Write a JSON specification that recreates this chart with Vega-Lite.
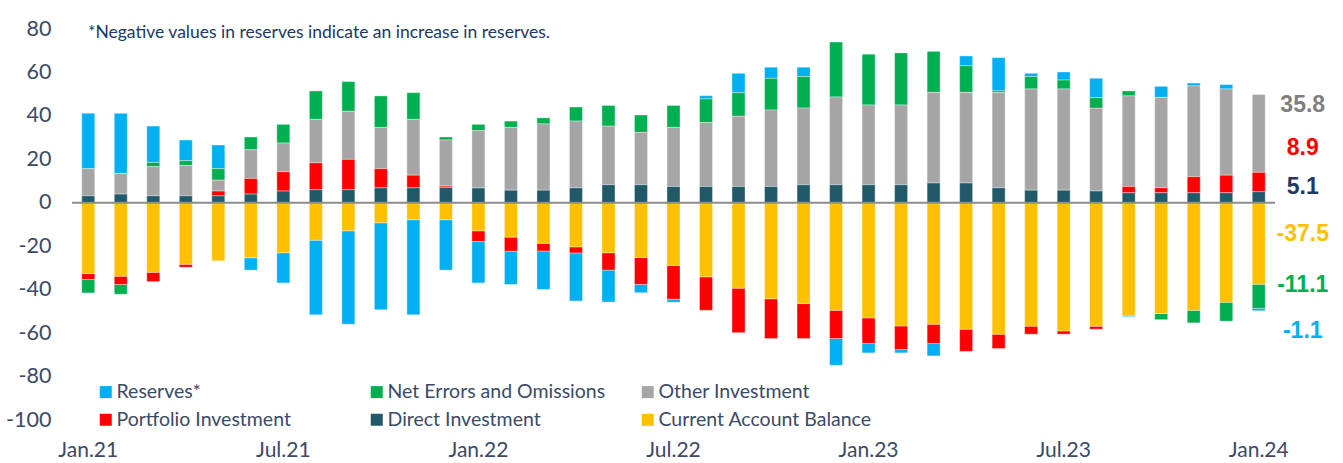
{
  "$schema": "https://vega.github.io/schema/vega-lite/v6.json",
  "width": 1203,
  "height": 391,
  "autosize": {"type": "none"},
  "padding": {"left": 72, "top": 29, "right": 68, "bottom": 43},
  "background": "white",
  "config": {"view": {"stroke": null}, "font": "Lato"},
  "title": {
    "text": "*Negative values in reserves indicate an increase in reserves.",
    "anchor": "start",
    "frame": "group",
    "offset": -23,
    "dx": 16,
    "fontSize": 17.5,
    "fontWeight": "normal",
    "color": "#203864",
    "font": "Lato"
  },
  "datasets": {
    "bop": [
      {"month": "Jan.21", "Current Account Balance": -32.6, "Direct Investment": 3.2, "Portfolio Investment": -2.7, "Other Investment": 12.5, "Net Errors and Omissions": -6.2, "Reserves*": 25.5},
      {"month": "Feb.21", "Current Account Balance": -33.8, "Direct Investment": 4.0, "Portfolio Investment": -3.8, "Other Investment": 9.5, "Net Errors and Omissions": -4.5, "Reserves*": 27.7},
      {"month": "Mar.21", "Current Account Balance": -32.0, "Direct Investment": 3.2, "Portfolio Investment": -4.3, "Other Investment": 13.4, "Net Errors and Omissions": 2.0, "Reserves*": 16.7},
      {"month": "Apr.21", "Current Account Balance": -28.3, "Direct Investment": 3.2, "Portfolio Investment": -1.4, "Other Investment": 14.0, "Net Errors and Omissions": 2.2, "Reserves*": 9.5},
      {"month": "May.21", "Current Account Balance": -26.7, "Direct Investment": 3.2, "Portfolio Investment": 2.2, "Other Investment": 5.0, "Net Errors and Omissions": 5.3, "Reserves*": 10.9},
      {"month": "Jun.21", "Current Account Balance": -25.3, "Direct Investment": 4.0, "Portfolio Investment": 7.2, "Other Investment": 13.2, "Net Errors and Omissions": 5.9, "Reserves*": -5.7},
      {"month": "Jul.21", "Current Account Balance": -23.0, "Direct Investment": 5.4, "Portfolio Investment": 8.9, "Other Investment": 13.2, "Net Errors and Omissions": 8.6, "Reserves*": -13.9},
      {"month": "Aug.21", "Current Account Balance": -17.2, "Direct Investment": 6.0, "Portfolio Investment": 12.4, "Other Investment": 20.0, "Net Errors and Omissions": 13.1, "Reserves*": -34.4},
      {"month": "Sep.21", "Current Account Balance": -12.9, "Direct Investment": 6.0, "Portfolio Investment": 14.0, "Other Investment": 22.1, "Net Errors and Omissions": 13.7, "Reserves*": -43.0},
      {"month": "Oct.21", "Current Account Balance": -9.2, "Direct Investment": 6.9, "Portfolio Investment": 8.8, "Other Investment": 19.0, "Net Errors and Omissions": 14.5, "Reserves*": -40.1},
      {"month": "Nov.21", "Current Account Balance": -7.8, "Direct Investment": 6.9, "Portfolio Investment": 5.8, "Other Investment": 25.7, "Net Errors and Omissions": 12.3, "Reserves*": -43.8},
      {"month": "Dec.21", "Current Account Balance": -7.8, "Direct Investment": 7.1, "Portfolio Investment": 0.6, "Other Investment": 21.2, "Net Errors and Omissions": 1.4, "Reserves*": -23.2},
      {"month": "Jan.22", "Current Account Balance": -12.9, "Direct Investment": 6.8, "Portfolio Investment": -4.9, "Other Investment": 26.4, "Net Errors and Omissions": 2.9, "Reserves*": -19.1},
      {"month": "Feb.22", "Current Account Balance": -15.8, "Direct Investment": 5.8, "Portfolio Investment": -6.5, "Other Investment": 28.9, "Net Errors and Omissions": 2.9, "Reserves*": -15.3},
      {"month": "Mar.22", "Current Account Balance": -18.7, "Direct Investment": 5.8, "Portfolio Investment": -3.5, "Other Investment": 30.5, "Net Errors and Omissions": 2.8, "Reserves*": -17.7},
      {"month": "Apr.22", "Current Account Balance": -20.3, "Direct Investment": 6.9, "Portfolio Investment": -2.8, "Other Investment": 30.7, "Net Errors and Omissions": 6.5, "Reserves*": -22.1},
      {"month": "May.22", "Current Account Balance": -23.0, "Direct Investment": 8.3, "Portfolio Investment": -8.0, "Other Investment": 27.0, "Net Errors and Omissions": 9.5, "Reserves*": -14.7},
      {"month": "Jun.22", "Current Account Balance": -25.2, "Direct Investment": 8.3, "Portfolio Investment": -12.4, "Other Investment": 24.1, "Net Errors and Omissions": 8.0, "Reserves*": -3.8},
      {"month": "Jul.22", "Current Account Balance": -28.9, "Direct Investment": 7.5, "Portfolio Investment": -15.5, "Other Investment": 27.2, "Net Errors and Omissions": 10.1, "Reserves*": -1.4},
      {"month": "Aug.22", "Current Account Balance": -34.1, "Direct Investment": 7.5, "Portfolio Investment": -15.4, "Other Investment": 29.4, "Net Errors and Omissions": 10.9, "Reserves*": 1.5},
      {"month": "Sep.22", "Current Account Balance": -39.3, "Direct Investment": 7.5, "Portfolio Investment": -20.5, "Other Investment": 32.3, "Net Errors and Omissions": 10.9, "Reserves*": 8.9},
      {"month": "Oct.22", "Current Account Balance": -44.2, "Direct Investment": 7.5, "Portfolio Investment": -18.3, "Other Investment": 35.2, "Net Errors and Omissions": 14.6, "Reserves*": 5.1},
      {"month": "Nov.22", "Current Account Balance": -46.4, "Direct Investment": 8.3, "Portfolio Investment": -16.1, "Other Investment": 35.3, "Net Errors and Omissions": 14.5, "Reserves*": 4.3},
      {"month": "Dec.22", "Current Account Balance": -49.5, "Direct Investment": 8.3, "Portfolio Investment": -13.0, "Other Investment": 40.4, "Net Errors and Omissions": 25.3, "Reserves*": -12.3},
      {"month": "Jan.23", "Current Account Balance": -53.0, "Direct Investment": 8.3, "Portfolio Investment": -11.8, "Other Investment": 36.7, "Net Errors and Omissions": 23.4, "Reserves*": -4.3},
      {"month": "Feb.23", "Current Account Balance": -56.7, "Direct Investment": 8.3, "Portfolio Investment": -10.9, "Other Investment": 36.7, "Net Errors and Omissions": 24.0, "Reserves*": -1.5},
      {"month": "Mar.23", "Current Account Balance": -55.9, "Direct Investment": 9.1, "Portfolio Investment": -8.9, "Other Investment": 41.7, "Net Errors and Omissions": 18.9, "Reserves*": -5.7},
      {"month": "Apr.23", "Current Account Balance": -58.2, "Direct Investment": 9.1, "Portfolio Investment": -10.2, "Other Investment": 41.7, "Net Errors and Omissions": 12.3, "Reserves*": 4.5},
      {"month": "May.23", "Current Account Balance": -60.5, "Direct Investment": 6.9, "Portfolio Investment": -6.6, "Other Investment": 43.8, "Net Errors and Omissions": 0.8, "Reserves*": 15.3},
      {"month": "Jun.23", "Current Account Balance": -56.8, "Direct Investment": 5.8, "Portfolio Investment": -3.7, "Other Investment": 46.6, "Net Errors and Omissions": 5.7, "Reserves*": 1.5},
      {"month": "Jul.23", "Current Account Balance": -59.0, "Direct Investment": 5.8, "Portfolio Investment": -1.5, "Other Investment": 46.6, "Net Errors and Omissions": 4.1, "Reserves*": 3.7},
      {"month": "Aug.23", "Current Account Balance": -56.8, "Direct Investment": 5.4, "Portfolio Investment": -1.4, "Other Investment": 38.1, "Net Errors and Omissions": 4.9, "Reserves*": 8.9},
      {"month": "Sep.23", "Current Account Balance": -51.8, "Direct Investment": 4.6, "Portfolio Investment": 2.9, "Other Investment": 41.7, "Net Errors and Omissions": 2.3, "Reserves*": -0.6},
      {"month": "Oct.23", "Current Account Balance": -51.0, "Direct Investment": 4.6, "Portfolio Investment": 2.3, "Other Investment": 41.6, "Net Errors and Omissions": -2.8, "Reserves*": 5.1},
      {"month": "Nov.23", "Current Account Balance": -49.5, "Direct Investment": 4.6, "Portfolio Investment": 7.4, "Other Investment": 41.8, "Net Errors and Omissions": -5.8, "Reserves*": 1.3},
      {"month": "Dec.23", "Current Account Balance": -45.8, "Direct Investment": 4.6, "Portfolio Investment": 8.1, "Other Investment": 39.7, "Net Errors and Omissions": -8.7, "Reserves*": 2.0},
      {"month": "Jan.24", "Current Account Balance": -37.5, "Direct Investment": 5.1, "Portfolio Investment": 8.9, "Other Investment": 35.8, "Net Errors and Omissions": -11.1, "Reserves*": -1.1}
    ],
    "endLabels": [
      {"series": "Other Investment", "value": 35.8, "pos": 45.2},
      {"series": "Portfolio Investment", "value": 8.9, "pos": 25.3},
      {"series": "Direct Investment", "value": 5.1, "pos": 7.4},
      {"series": "Current Account Balance", "value": -37.5, "pos": -14.3},
      {"series": "Net Errors and Omissions", "value": -11.1, "pos": -37.8},
      {"series": "Reserves*", "value": -1.1, "pos": -59.0}
    ]
  },
  "layer": [
    {
      "data": {"name": "bop"},
      "transform": [
        {"fold": ["Reserves*", "Net Errors and Omissions", "Other Investment", "Portfolio Investment", "Direct Investment", "Current Account Balance"], "as": ["series", "value"]},
        {"calculate": "indexof(['Current Account Balance','Direct Investment','Portfolio Investment','Other Investment','Net Errors and Omissions','Reserves*'], datum.series)", "as": "stackOrder"}
      ],
      "mark": {"type": "bar", "stroke": "white", "strokeWidth": 0.6, "strokeOpacity": 0.6},
      "encoding": {
        "x": {
          "field": "month",
          "type": "ordinal",
          "sort": null,
          "scale": {"paddingInner": 0.6, "paddingOuter": 0.3},
          "axis": {
            "values": ["Jan.21", "Jul.21", "Jan.22", "Jul.22", "Jan.23", "Jul.23", "Jan.24"],
            "title": null,
            "labelAngle": 0,
            "domain": false,
            "ticks": false,
            "labelPadding": 19,
            "labelFontSize": 21,
            "labelColor": "#3B4A66",
            "labelFont": "Lato"
          }
        },
        "y": {
          "field": "value",
          "type": "quantitative",
          "stack": "zero",
          "scale": {"domain": [-100, 80], "nice": false},
          "axis": {
            "values": [-100, -80, -60, -40, -20, 0, 20, 40, 60, 80],
            "labelExpr": "datum.value + ''",
            "title": null,
            "domain": false,
            "ticks": false,
            "grid": false,
            "labelPadding": 21,
            "labelFontSize": 21.5,
            "labelColor": "#3B4A66",
            "labelFont": "Lato"
          }
        },
        "color": {
          "field": "series",
          "type": "nominal",
          "scale": {
            "domain": ["Reserves*", "Net Errors and Omissions", "Other Investment", "Portfolio Investment", "Direct Investment", "Current Account Balance"],
            "range": ["#00B0F0", "#00B050", "#A5A5A5", "#FF0000", "#215968", "#FFC000"]
          },
          "legend": {
            "orient": "none",
            "legendX": 24,
            "legendY": 353,
            "columns": 3,
            "direction": "horizontal",
            "gridAlign": "all",
            "columnPadding": 32,
            "rowPadding": 7,
            "padding": 0,
            "title": null,
            "symbolType": "square",
            "symbolSize": 144,
            "symbolStrokeWidth": 0,
            "labelFontSize": 19.5,
            "labelFont": "Lato",
            "labelColor": "#3B4A66",
            "labelOffset": 1,
            "labelLimit": 400
          }
        },
        "order": {"field": "stackOrder", "type": "quantitative"}
      }
    },
    {
      "data": {"values": [{}]},
      "mark": {"type": "rule", "color": "#8C8C8C", "strokeWidth": 2},
      "encoding": {"y": {"datum": 0}}
    },
    {
      "data": {"name": "endLabels"},
      "transform": [{"calculate": "toString(datum.value)", "as": "labelText"}],
      "mark": {"type": "text", "font": "Liberation Sans", "fontWeight": "bold", "fontSize": 23, "align": "center", "baseline": "middle", "dx": 44},
      "encoding": {
        "x": {"datum": "Jan.24"},
        "y": {"field": "pos", "type": "quantitative"},
        "text": {"field": "labelText", "type": "nominal"},
        "color": {
          "field": "series",
          "type": "nominal",
          "scale": {
            "domain": ["Other Investment", "Portfolio Investment", "Direct Investment", "Current Account Balance", "Net Errors and Omissions", "Reserves*"],
            "range": ["#7F7F7F", "#FF0000", "#1F3864", "#FFC000", "#00B050", "#00B0F0"]
          },
          "legend": null
        }
      }
    }
  ],
  "resolve": {"scale": {"color": "independent"}}
}
